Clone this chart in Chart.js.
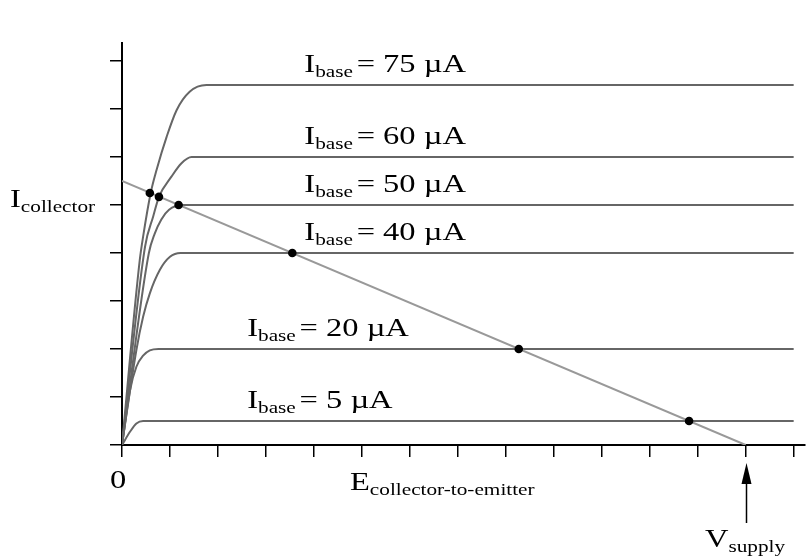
<!DOCTYPE html>
<html>
<head>
<meta charset="utf-8">
<script src="https://cdn.jsdelivr.net/npm/chart.js@4.4.1/dist/chart.umd.min.js"></script>
<style>
  html, body { margin: 0; padding: 0; background: #fff; }
</style>
</head>
<body>
<canvas id="chart" width="809" height="558"></canvas>
<script>
// Transistor characteristic curves with a load line.
// x: collector-to-emitter voltage (tick units), y: collector current (tick units)

const BASE_CURRENTS = [75, 60, 50, 40, 20, 5]; // µA, one per curve

const CURVE_75 = [[0, 0], [0.37, 3.85], [0.44, 4.34], [0.6, 5.26], [0.72, 5.73], [0.93, 6.42], [1.14, 6.98], [1.41, 7.36], [1.76, 7.5], [14, 7.5]];
const CURVE_60 = [[0, 0], [0.48, 4.13], [0.65, 4.76], [0.77, 5.17], [1.03, 5.59], [1.24, 5.87], [1.45, 6], [14, 6]];
const CURVE_50 = [[0, 0], [0.56, 4.0], [0.68, 4.4], [0.82, 4.7], [0.98, 4.9], [1.25, 5], [14, 5]];
const CURVE_40 = [[0, 0], [0.3, 1.98], [0.44, 2.67], [0.58, 3.16], [0.79, 3.65], [1.0, 3.92], [1.22, 4], [14, 4]];
const CURVE_20 = [[0, 0], [0.17, 1.15], [0.3, 1.63], [0.44, 1.86], [0.58, 1.97], [0.76, 2], [14, 2]];
const CURVE_5  = [[0, 0], [0.17, 0.28], [0.3, 0.45], [0.44, 0.5], [14, 0.5]];

const LOAD_LINE = [[0, 5.5], [13, 0]];
const Q_POINTS = [[0.58, 5.25], [0.77, 5.17], [1.18, 5.0], [3.55, 4.0], [8.27, 2.0], [11.82, 0.5]];
const V_SUPPLY = 13;

const X_MAX = 14.23;
const Y_MAX = 8.375;

const CURVES = [CURVE_75, CURVE_60, CURVE_50, CURVE_40, CURVE_20, CURVE_5];
const toXY = arr => arr.map(([x, y]) => ({ x, y }));

const FONT = '"Liberation Serif", "Times New Roman", serif';
const STRETCH = 1.25; // the reference type is set wide

function subText(ctx, x, y, main, sub, rest) {
  ctx.save();
  ctx.translate(x, y);
  ctx.scale(STRETCH, 1);
  ctx.fillStyle = '#000';
  ctx.textBaseline = 'alphabetic';
  ctx.textAlign = 'left';
  ctx.font = '26px ' + FONT;
  ctx.fillText(main, 0, 0);
  let w = ctx.measureText(main).width;
  ctx.font = '17px ' + FONT;
  ctx.fillText(sub, w, 5);
  w += ctx.measureText(sub).width;
  if (rest) {
    ctx.font = '26px ' + FONT;
    ctx.fillText(rest, w + 3, 0);
  }
  ctx.restore();
}

const annotations = {
  id: 'annotations',
  afterDraw(chart) {
    const { ctx } = chart;
    const xs = chart.scales.x, ys = chart.scales.y;
    const labelX = [3.8, 3.8, 3.8, 3.8, 2.61, 2.61];

    BASE_CURRENTS.forEach((ib, i) => {
      const level = CURVES[i][CURVES[i].length - 1][1];
      subText(ctx, xs.getPixelForValue(labelX[i]), ys.getPixelForValue(level) - 13, 'I', 'base', '= ' + ib + ' µA');
    });

    subText(ctx, 10, ys.getPixelForValue(5) + 2, 'I', 'collector');
    subText(ctx, 350, 490, 'E', 'collector-to-emitter');
    subText(ctx, 705, 547, 'V', 'supply');

    ctx.save();
    ctx.translate(110, 488);
    ctx.scale(STRETCH, 1);
    ctx.font = '26px ' + FONT;
    ctx.fillStyle = '#000';
    ctx.fillText('0', 0, 0);
    ctx.restore();

    // arrow pointing at V supply
    const ax = Math.round(xs.getPixelForValue(V_SUPPLY)) + 0.5;
    ctx.save();
    ctx.strokeStyle = '#000';
    ctx.fillStyle = '#000';
    ctx.lineWidth = 1.5;
    ctx.beginPath();
    ctx.moveTo(ax, 480);
    ctx.lineTo(ax, 523);
    ctx.stroke();
    ctx.beginPath();
    ctx.moveTo(ax, 463);
    ctx.lineTo(ax - 5, 484);
    ctx.lineTo(ax + 5, 484);
    ctx.closePath();
    ctx.fill();
    ctx.restore();
  }
};

const curveSets = CURVES.map(c => ({
  data: toXY(c),
  showLine: true,
  borderColor: '#666666',
  borderWidth: 2,
  pointRadius: 0,
  cubicInterpolationMode: 'monotone',
  fill: false
}));

new Chart(document.getElementById('chart').getContext('2d'), {
  type: 'scatter',
  data: {
    datasets: [
      {
        data: toXY(Q_POINTS),
        showLine: false,
        pointRadius: 4.3,
        pointBackgroundColor: '#000',
        pointBorderColor: '#000',
        pointBorderWidth: 0
      },
      {
        data: toXY(LOAD_LINE),
        showLine: true,
        borderColor: '#999999',
        borderWidth: 2,
        pointRadius: 0
      },
      ...curveSets
    ]
  },
  options: {
    responsive: false,
    animation: false,
    layout: { padding: { left: 110, right: 1, top: 43, bottom: 101 } },
    plugins: { legend: { display: false }, tooltip: { enabled: false } },
    scales: {
      x: {
        type: 'linear', min: 0, max: X_MAX,
        ticks: { display: false, stepSize: 1, includeBounds: false },
        grid: { drawOnChartArea: false, drawTicks: true, tickLength: 12, color: '#000', lineWidth: 1.5 },
        border: { color: '#000', width: 2 }
      },
      y: {
        type: 'linear', min: 0, max: Y_MAX,
        ticks: { display: false, stepSize: 1, includeBounds: false },
        grid: { drawOnChartArea: false, drawTicks: true, tickLength: 12, color: '#000', lineWidth: 1.5 },
        border: { color: '#000', width: 2 }
      }
    }
  },
  plugins: [annotations]
});
</script>
</body>
</html>
